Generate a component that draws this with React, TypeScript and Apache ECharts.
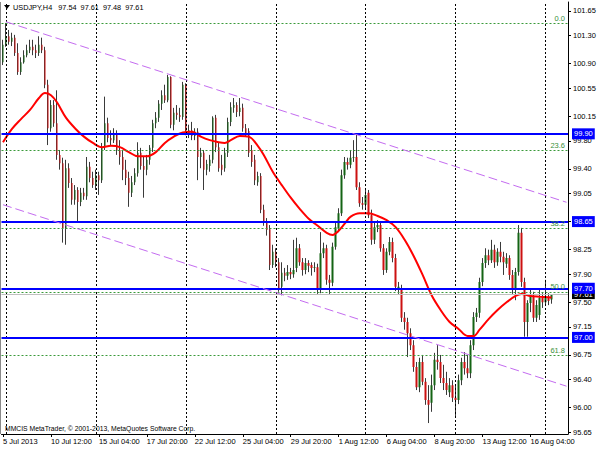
import React, { useEffect, useRef } from "react";
import * as echarts from "echarts";

// USDJPY H4 candles, bar 0 = 5 Jul 2013 20:00 ... bar 183 = 19 Aug 2013 08:00
const barOpen = [
  100.92,101.17,101.29,101.21,101.27,101.05,100.78,100.92,101.02,101.09,
  101.14,101.09,101.05,101.17,101.09,100.60,99.98,100.31,100.05,99.60,
  99.48,98.56,99.41,99.20,98.96,99.10,98.93,99.06,99.01,99.43,
  99.27,99.17,99.31,99.24,99.71,100.05,99.84,99.81,99.91,99.67,
  99.57,99.39,99.27,99.06,99.21,99.34,99.63,99.44,99.39,99.53,
  99.70,100.05,100.13,100.33,100.45,100.38,100.71,100.03,100.20,100.17,
  100.14,100.60,99.91,99.95,99.87,99.93,99.57,99.63,99.39,99.44,
  99.53,100.13,99.71,99.46,99.41,99.63,100.07,100.27,100.31,100.21,
  100.27,99.98,99.94,99.67,99.53,99.21,99.30,98.82,98.64,98.54,
  98.03,98.22,98.07,97.72,97.92,97.88,97.93,97.90,97.99,98.27,
  98.07,97.96,98.06,98.03,97.99,98.00,97.68,98.20,98.27,97.82,
  97.78,98.29,98.56,98.77,99.31,99.50,99.46,99.56,99.57,99.14,
  98.91,98.89,99.06,98.74,98.39,98.57,98.60,98.27,97.96,98.22,
  98.36,98.13,97.68,97.70,97.28,97.22,97.06,96.89,96.58,96.29,
  96.65,96.37,96.11,96.07,96.32,96.68,96.65,96.42,96.35,96.22,
  96.32,96.14,96.11,96.39,96.65,96.56,96.49,96.89,97.29,97.35,
  97.79,98.06,98.17,98.10,98.25,98.07,98.22,98.15,98.05,98.13,
  97.89,97.68,97.93,98.49,97.79,97.22,97.49,97.59,97.28,97.32,
  97.56,97.50,97.58,97.54,
];
const barClose = [
  101.17,101.29,101.21,101.27,101.05,100.78,100.92,101.02,101.09,101.14,
  101.09,101.05,101.17,101.09,100.60,99.98,100.31,100.05,99.60,99.48,
  98.56,99.41,99.20,98.96,99.10,98.93,99.06,99.01,99.43,99.27,
  99.17,99.31,99.24,99.71,100.05,99.84,99.81,99.91,99.67,99.57,
  99.39,99.27,99.06,99.21,99.34,99.63,99.44,99.39,99.53,99.70,
  100.05,100.13,100.33,100.45,100.38,100.71,100.03,100.20,100.17,100.14,
  100.60,99.93,99.95,99.87,99.93,99.57,99.63,99.39,99.47,99.53,
  100.13,99.71,99.41,99.39,99.63,100.07,100.28,100.31,100.21,100.27,
  99.98,99.91,99.63,99.50,99.24,99.30,98.82,98.64,98.53,98.03,
  98.22,98.07,97.70,97.92,97.88,97.93,97.90,97.96,98.27,98.07,
  97.96,98.06,98.02,97.99,98.00,97.68,98.20,98.27,97.82,97.78,
  98.29,98.57,98.77,99.31,99.50,99.46,99.56,99.57,99.14,98.91,
  98.89,99.03,98.74,98.39,98.57,98.60,98.27,97.96,98.22,98.36,
  98.13,97.72,97.72,97.28,97.22,97.06,96.89,96.58,96.29,96.65,
  96.37,96.11,96.04,96.32,96.68,96.65,96.42,96.35,96.25,96.32,
  96.14,96.11,96.39,96.65,96.56,96.49,96.89,97.29,97.35,97.79,
  98.06,98.17,98.10,98.25,98.07,98.22,98.15,98.07,98.13,97.89,
  97.68,97.93,98.49,97.79,97.22,97.49,97.59,97.28,97.46,97.56,
  97.50,97.58,97.52,97.61,
];
const barHigh = [
  101.24,101.48,101.38,101.34,101.31,101.19,100.99,101.09,101.17,101.24,
  101.24,101.17,101.29,101.27,101.14,100.67,100.38,100.38,100.52,99.67,
  99.56,99.53,99.48,99.27,99.17,99.14,99.13,99.13,99.57,99.50,
  99.36,99.39,99.36,99.77,100.43,100.13,99.95,99.98,99.95,99.81,
  99.67,99.53,99.36,99.30,99.41,99.78,99.70,99.57,99.60,99.74,
  100.10,100.21,100.38,100.52,100.60,100.74,100.72,100.27,100.31,100.27,
  100.64,100.62,100.03,100.07,99.98,99.98,99.70,99.67,99.53,99.60,
  100.15,100.17,99.77,99.60,99.70,100.13,100.35,100.41,100.35,100.41,
  100.33,100.04,99.98,99.74,99.60,99.36,99.34,98.89,98.70,98.60,
  98.32,98.27,98.13,98.07,97.99,98.03,97.99,98.39,98.42,98.33,
  98.13,98.13,98.10,98.07,98.07,98.05,98.50,98.35,98.32,97.89,
  98.35,98.64,98.84,99.39,99.57,99.56,99.67,99.81,99.91,99.21,
  99.00,99.10,99.10,98.82,98.64,98.67,98.64,98.33,98.27,98.43,
  98.42,98.19,97.79,97.75,97.36,97.28,97.13,96.96,96.65,96.71,
  96.75,96.42,96.32,96.47,96.78,96.89,96.75,96.61,96.51,96.42,
  96.39,96.32,96.47,96.71,96.79,96.75,96.96,97.36,97.42,97.85,
  98.13,98.27,98.25,98.39,98.32,98.27,98.36,98.22,98.20,98.17,
  97.96,97.99,98.60,98.56,97.85,97.53,97.68,97.65,97.53,97.68,
  97.63,97.82,97.63,97.61,
];
const barLow = [
  100.88,101.14,101.17,101.15,101.01,100.74,100.74,100.90,100.99,101.05,
  101.02,100.98,101.01,101.05,100.55,99.74,99.93,100.00,99.53,99.39,
  98.35,98.32,99.13,98.89,98.89,98.63,98.87,98.96,98.96,99.21,
  99.13,99.10,99.03,99.20,99.67,99.78,99.74,99.77,99.60,99.46,
  99.24,99.17,98.86,99.00,99.17,99.29,99.39,98.99,99.31,99.46,
  99.64,99.98,100.07,100.24,100.34,100.35,99.98,99.95,100.10,100.07,
  100.10,99.88,99.84,99.81,99.81,99.24,99.41,99.10,99.31,99.36,
  99.48,99.64,99.36,99.31,99.36,99.57,100.01,100.20,100.14,100.15,
  99.93,99.86,99.57,99.43,99.17,99.16,98.77,98.59,98.45,97.96,
  97.99,98.00,97.65,97.60,97.80,97.82,97.83,97.85,97.93,98.02,
  97.88,97.90,97.93,97.88,97.93,97.62,97.63,98.13,97.75,97.62,
  97.73,98.25,98.50,98.73,99.26,99.39,99.41,99.50,99.10,98.86,
  98.82,98.84,98.70,98.32,98.33,98.50,98.22,97.89,97.92,98.17,
  98.07,97.66,97.62,97.22,97.11,96.72,96.82,96.51,96.25,96.22,
  96.32,96.04,95.78,95.94,96.25,96.54,96.35,96.25,96.18,96.15,
  96.08,95.87,96.05,96.32,96.47,96.42,96.42,96.82,97.22,97.28,
  97.73,97.99,98.03,98.06,97.99,98.02,98.07,97.89,97.99,97.82,
  97.62,97.53,97.88,97.72,97.01,97.01,97.36,97.22,97.22,97.25,
  97.42,97.46,97.46,97.48,
];

// moving average (red line), read at these bars
const maBars = [0,3,6,9,12,14,16,18,21,24,27,30,33,36,39,42,45,48,51,54,57,60,63,66,69,72,74,76,79,82,85,87,90,93,96,99,102,105,108,110,112,114,116,119,122,125,128,131,134,137,140,143,146,149,152,155,157,159,162,165,168,171,173,176,179,183];
const maValues = [99.78,99.97,100.11,100.24,100.41,100.48,100.45,100.35,100.13,99.98,99.86,99.77,99.71,99.73,99.71,99.64,99.58,99.58,99.64,99.77,99.86,99.92,99.93,99.86,99.81,99.78,99.77,99.81,99.87,99.86,99.73,99.60,99.36,99.17,98.99,98.83,98.69,98.59,98.49,98.46,98.52,98.62,98.72,98.77,98.77,98.73,98.67,98.57,98.39,98.16,97.89,97.60,97.39,97.22,97.12,97.02,97.02,97.11,97.26,97.39,97.50,97.59,97.62,97.59,97.58,97.57];

const levelPrices = [99.9, 98.65, 97.7, 97.0];
const fibPrices = [101.47, 99.66, 98.55, 97.65, 96.74];
const fibLabels = ["0.0", "23.6", "38.2", "50.0", "61.8"];
const channelUpper = [[1, 101.496], [188, 98.925]];
const channelLower = [[0, 98.89], [188, 96.305]];

const yTickValues = [101.65, 101.3, 100.9, 100.55, 100.15, 99.8, 99.4, 99.05, 98.65, 98.25, 97.9, 97.5, 97.15, 96.75, 96.4, 96.0, 95.65];
const xTickBars = [0, 16, 32, 48, 64, 80, 96, 112, 128, 144, 160, 176];
const xTickLabels = ["5 Jul 2013", "10 Jul 12:00", "15 Jul 04:00", "17 Jul 20:00", "22 Jul 12:00", "25 Jul 04:00", "29 Jul 20:00", "1 Aug 12:00", "6 Aug 04:00", "8 Aug 20:00", "13 Aug 12:00", "16 Aug 04:00"];
const weekStartBars = [1, 31, 61, 91, 121, 151, 181];
const slotCount = 189;

export default function App() {
  const ref = useRef<HTMLDivElement>(null);
  useEffect(() => {
    const chart = echarts.init(ref.current!, null, { renderer: "svg" });
    const font = "Liberation Sans";
    const categories = Array.from({ length: slotCount }, (_, i) => String(i));
    const ohlc = barOpen.map((o, i) => [o, barClose[i], barLow[i], barHigh[i]]);
    const last = barOpen.length - 1;
    const isTick = (i: number) => xTickBars.indexOf(i) >= 0;
    const bid = barClose[last];
    const channelStyle = { color: "#c46cf0", width: 1, type: [9, 4] };
    const headerValues = [barOpen[last], barHigh[last], barLow[last], barClose[last]].map((v) => v.toFixed(2)).join("  ");

    const objectLines: any[] = [];
    fibPrices.forEach((p, k) => {
      objectLines.push({
        yAxis: p,
        lineStyle: { color: "#3a9a3a", width: 1, type: [2, 2] },
        label: { show: true, position: "insideEndTop", formatter: fibLabels[k], color: "#3a8f3a", fontSize: 7.5, fontFamily: font, distance: [3, 1] },
      });
    });
    objectLines.push({
      yAxis: bid,
      lineStyle: { color: "#c0c0c0", width: 1, type: "solid" },
      label: { show: true, position: "end", formatter: bid.toFixed(2), backgroundColor: "#000", color: "#fff", padding: [1, 2, 0, 2], fontSize: 7.5, fontFamily: font, distance: 4 },
    });
    levelPrices.forEach((p) => {
      objectLines.push({
        yAxis: p,
        lineStyle: { color: "#0000ff", width: 2, type: "solid" },
        label: { show: true, position: "end", formatter: p.toFixed(2), backgroundColor: "#0000ff", color: "#fff", padding: [2, 2, 1, 2], fontSize: 7.5, fontFamily: font, distance: 4 },
      });
    });
    objectLines.push([{ coord: channelUpper[0], lineStyle: channelStyle }, { coord: channelUpper[1] }]);
    objectLines.push([{ coord: channelLower[0], lineStyle: channelStyle }, { coord: channelLower[1] }]);

    chart.setOption({
      animation: false,
      backgroundColor: "#ffffff",
      grid: { left: 1, top: 2, width: 567, height: 432, containLabel: false },
      xAxis: {
        type: "category",
        data: categories,
        boundaryGap: true,
        axisLine: { show: true, onZero: false, lineStyle: { color: "#000", width: 1 } },
        axisTick: { show: true, alignWithLabel: true, interval: (i: number) => isTick(i), length: 3, lineStyle: { color: "#000" } },
        axisLabel: {
          show: true,
          interval: (i: number) => isTick(i),
          formatter: (_v: string, i: number) => {
            const k = xTickBars.indexOf(i);
            return k >= 0 ? xTickLabels[k] : "";
          },
          align: "left",
          margin: 3,
          fontSize: 7.5,
          fontFamily: font,
          color: "#000",
        },
        splitLine: { show: false },
      },
      yAxis: {
        type: "value",
        position: "right",
        min: 95.624,
        max: 101.778,
        axisLine: { show: true, lineStyle: { color: "#000" } },
        axisTick: { show: true, customValues: yTickValues, length: 3, lineStyle: { color: "#000" } },
        axisLabel: { show: true, customValues: yTickValues, formatter: (v: number) => v.toFixed(2), margin: 5, fontSize: 7.5, fontFamily: font, color: "#000" },
        splitLine: { show: false },
      },
      series: [
        {
          type: "line",
          data: [],
          z: 1,
          silent: true,
          markLine: {
            silent: true,
            symbol: ["none", "none"],
            label: { show: false },
            lineStyle: { color: "#000", type: [2, 2], width: 1 },
            data: weekStartBars.map((b) => ({ xAxis: b })),
          },
        },
        {
          type: "candlestick",
          data: ohlc,
          barWidth: 1,
          z: 2,
          silent: true,
          itemStyle: { color: "#3a3a3a", color0: "#3a3a3a", borderColor: "#3a3a3a", borderColor0: "#3a3a3a", borderWidth: 1 },
        },
        {
          type: "candlestick",
          data: ohlc,
          barWidth: 2,
          z: 3,
          silent: true,
          itemStyle: { color: "#146414", color0: "#cc1111", borderColor: "transparent", borderColor0: "transparent", borderWidth: 0 },
        },
        {
          type: "line",
          data: maBars.map((b, k) => [b, maValues[k]]),
          smooth: 0.35,
          symbol: "none",
          showSymbol: false,
          z: 4,
          silent: true,
          lineStyle: { color: "#ff0000", width: 2 },
        },
        {
          type: "line",
          data: [],
          z: 5,
          silent: true,
          markLine: { silent: true, symbol: ["none", "none"], data: objectLines },
        },
      ],
      graphic: [
        { type: "line", shape: { x1: 0.5, y1: 2, x2: 0.5, y2: 434 }, style: { stroke: "#888", lineWidth: 1 } },
        { type: "polygon", shape: { points: [[4, 5], [10, 5], [7, 9]] }, style: { fill: "#000" } },
        {
          type: "text",
          x: 13,
          y: 3.5,
          style: {
            text: `USDJPY,H4   ${headerValues}`,
            font: `7.3px "${font}"`,
            fill: "#000",
          },
        },
        {
          type: "text",
          x: 5,
          y: 424.5,
          style: { text: "MMCIS MetaTrader, © 2001-2013, MetaQuotes Software Corp.", font: `6.8px "${font}"`, fill: "#000" },
        },
      ],
    });
    return () => chart.dispose();
  }, []);
  return <div ref={ref} style={{ position: "fixed", left: 0, top: 0, width: 600, height: 450, background: "#fff" }} />;
}
